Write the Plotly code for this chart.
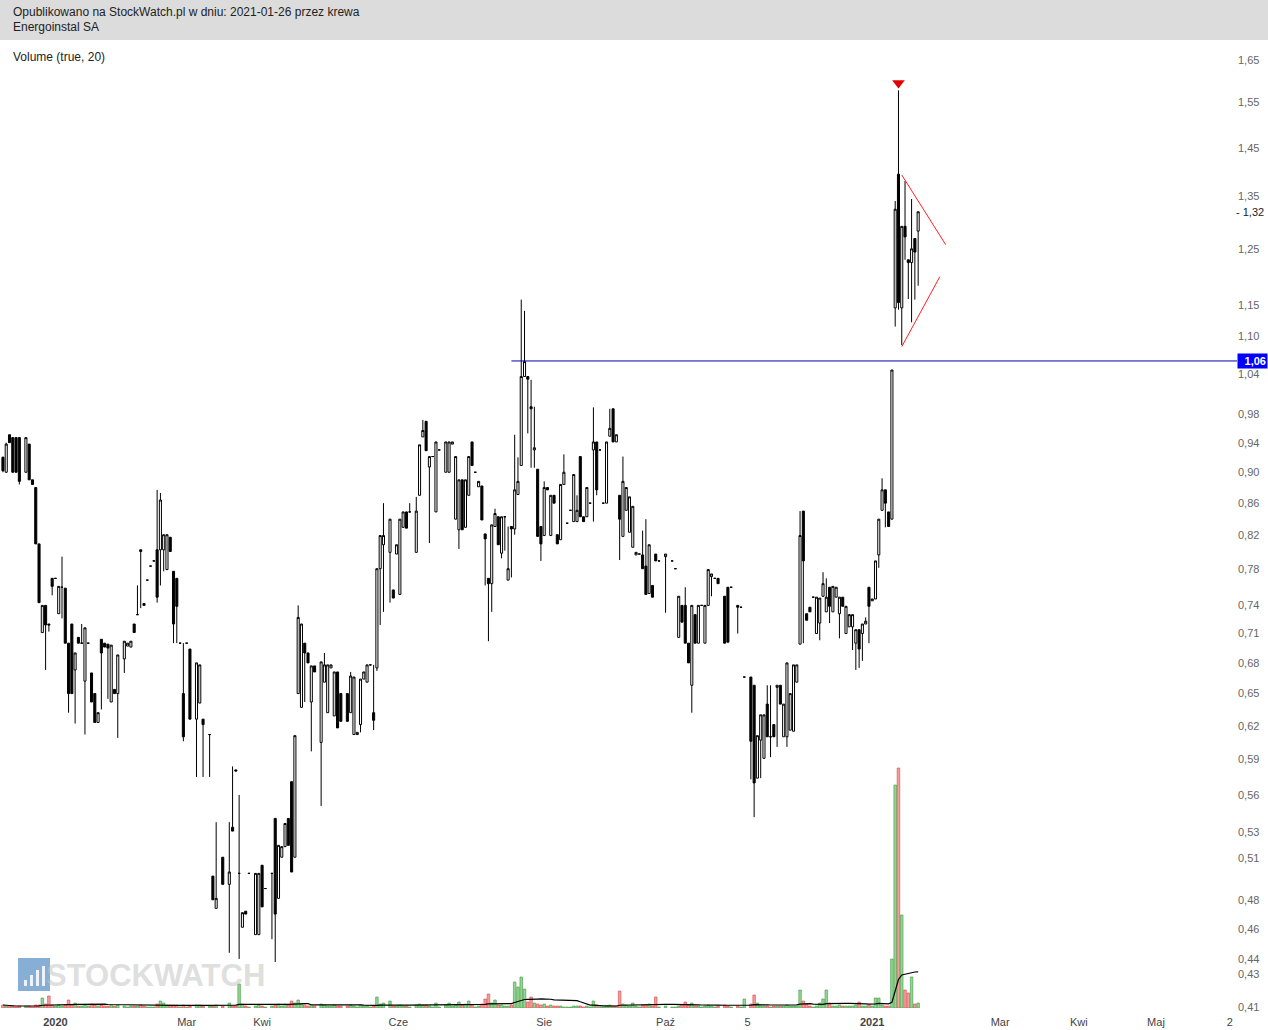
import numpy as np
import pandas as pd
import plotly.graph_objects as go

# ---------------- data ----------------
open_ = [0.920,0.900,0.951,0.947,0.947,0.947,0.900,0.938,0.890,0.880,
         0.810,0.711,0.740,0.720,0.770,0.770,0.731,0.760,0.759,0.700,
         0.720,0.673,0.706,0.700,0.662,0.700,0.670,0.650,0.623,0.704,
         0.700,0.699,0.642,0.654,0.650,0.684,0.697,0.696,0.720,0.730,
         0.803,0.742,0.768,0.784,0.790,0.803,0.803,0.803,0.780,0.818,
         0.778,0.770,0.700,0.650,0.700,0.694,0.626,0.641,0.626,0.612,
         0.497,0.474,0.511,0.491,0.534,0.581,0.499,0.461,0.472,0.499,
         0.456,0.456,0.505,0.488,0.499,0.541,0.481,0.511,0.519,0.541,
         0.571,0.511,0.650,0.637,0.700,0.690,0.642,0.677,0.605,0.661,
         0.632,0.675,0.629,0.671,0.650,0.650,0.632,0.612,0.612,0.621,
         0.664,0.661,0.678,0.632,0.675,0.781,0.809,0.800,0.757,0.798,
         0.752,0.830,0.849,0.849,0.800,0.870,0.948,0.970,0.907,0.921,
         0.849,0.930,0.900,0.900,0.938,0.840,0.827,0.890,0.830,0.870,
         0.941,0.900,0.881,0.882,0.822,0.770,0.764,0.831,0.843,0.799,
         0.843,0.768,0.831,0.828,0.871,0.909,1.036,1.036,0.991,0.930,
         0.904,0.831,0.820,0.880,0.820,0.870,0.821,0.815,0.884,0.835,
         0.851,0.837,0.837,0.921,0.843,0.843,0.860,0.930,0.941,0.930,
         0.860,0.860,0.949,0.988,0.941,0.870,0.819,0.851,0.824,0.806,
         0.797,0.798,0.797,0.784,0.753,0.762,0.798,0.790,0.795,0.790,
         0.781,0.706,0.740,0.740,0.700,0.658,0.730,0.700,0.740,0.700,
         0.740,0.772,0.770,0.770,0.750,0.760,0.760,0.740,0.738,0.666,
         0.666,0.658,0.574,0.607,0.591,0.640,0.610,0.621,0.656,0.658,
         0.610,0.610,0.616,0.615,0.661,0.699,0.850,0.731,0.738,0.749,
         0.710,0.721,0.750,0.733,0.760,0.733,0.749,0.731,0.749,0.710,
         0.717,0.717,0.700,0.714,0.710,0.720,0.760,0.745,0.747,0.797,
         0.851,0.877,0.849,0.840,1.146,1.395,1.146,1.292,1.230,1.225,
         1.269,1.283]

high = [0.921,0.940,0.951,0.947,0.947,0.947,0.947,0.938,0.890,0.880,
        0.810,0.740,0.740,0.720,0.770,0.770,0.761,0.795,0.759,0.700,
        0.720,0.690,0.706,0.720,0.716,0.700,0.670,0.650,0.632,0.704,
        0.700,0.699,0.698,0.654,0.688,0.702,0.700,0.702,0.720,0.762,
        0.803,0.742,0.768,0.784,0.790,0.877,0.873,0.821,0.821,0.818,
        0.778,0.770,0.700,0.700,0.700,0.694,0.680,0.678,0.626,0.612,
        0.497,0.538,0.511,0.538,0.584,0.581,0.560,0.471,0.472,0.499,
        0.499,0.499,0.505,0.488,0.499,0.541,0.520,0.519,0.537,0.541,
        0.571,0.611,0.740,0.720,0.700,0.690,0.677,0.677,0.681,0.690,
        0.678,0.678,0.671,0.671,0.650,0.650,0.671,0.666,0.614,0.664,
        0.671,0.678,0.678,0.678,0.781,0.820,0.860,0.840,0.757,0.809,
        0.840,0.849,0.849,0.860,0.868,0.937,0.972,0.970,0.921,0.921,
        0.941,0.930,0.941,0.941,0.941,0.921,0.890,0.890,0.890,0.921,
        0.941,0.900,0.888,0.882,0.822,0.770,0.833,0.853,0.843,0.843,
        0.843,0.831,0.831,0.951,0.920,1.160,1.141,1.036,1.031,0.991,
        0.904,0.831,0.888,0.880,0.870,0.870,0.821,0.884,0.924,0.835,
        0.851,0.897,0.870,0.921,0.843,0.880,0.860,0.990,0.941,0.930,
        0.860,0.941,0.988,0.988,0.951,0.870,0.921,0.880,0.868,0.856,
        0.800,0.798,0.826,0.840,0.809,0.762,0.798,0.790,0.798,0.790,
        0.781,0.750,0.740,0.760,0.700,0.740,0.730,0.740,0.740,0.740,
        0.780,0.775,0.770,0.770,0.750,0.760,0.760,0.740,0.738,0.666,
        0.666,0.658,0.611,0.630,0.630,0.658,0.658,0.621,0.658,0.658,
        0.640,0.680,0.650,0.678,0.678,0.850,0.850,0.731,0.738,0.749,
        0.749,0.748,0.777,0.770,0.760,0.761,0.760,0.749,0.749,0.739,
        0.730,0.730,0.714,0.714,0.720,0.727,0.760,0.747,0.790,0.840,
        0.892,0.877,0.849,1.046,1.341,1.578,1.292,1.381,1.230,1.345,
        1.269,1.320]

low = [0.900,0.900,0.940,0.900,0.900,0.884,0.900,0.890,0.884,0.810,
       0.743,0.711,0.673,0.712,0.751,0.770,0.731,0.726,0.700,0.632,
       0.650,0.622,0.700,0.700,0.612,0.700,0.642,0.623,0.623,0.635,
       0.696,0.645,0.642,0.650,0.609,0.670,0.697,0.696,0.711,0.730,
       0.737,0.740,0.768,0.784,0.790,0.743,0.762,0.778,0.780,0.801,
       0.700,0.700,0.700,0.606,0.700,0.626,0.575,0.641,0.575,0.575,
       0.480,0.474,0.491,0.444,0.531,0.580,0.440,0.461,0.470,0.499,
       0.456,0.456,0.475,0.488,0.453,0.438,0.481,0.511,0.519,0.520,
       0.500,0.511,0.650,0.637,0.642,0.680,0.597,0.671,0.551,0.661,
       0.632,0.675,0.629,0.618,0.624,0.624,0.632,0.612,0.612,0.614,
       0.664,0.661,0.678,0.616,0.672,0.719,0.733,0.743,0.748,0.798,
       0.752,0.830,0.829,0.849,0.800,0.870,0.948,0.929,0.811,0.921,
       0.849,0.930,0.900,0.900,0.938,0.840,0.804,0.827,0.830,0.870,
       0.909,0.900,0.881,0.839,0.762,0.702,0.733,0.831,0.809,0.793,
       0.802,0.768,0.771,0.821,0.871,0.909,1.036,0.953,0.906,0.906,
       0.819,0.790,0.820,0.877,0.820,0.860,0.810,0.815,0.884,0.835,
       0.851,0.837,0.837,0.843,0.837,0.843,0.860,0.837,0.870,0.930,
       0.860,0.860,0.949,0.941,0.941,0.791,0.819,0.851,0.824,0.806,
       0.797,0.798,0.781,0.752,0.753,0.749,0.790,0.790,0.732,0.790,
       0.781,0.706,0.722,0.700,0.680,0.632,0.700,0.700,0.740,0.700,
       0.740,0.750,0.770,0.764,0.700,0.701,0.760,0.710,0.738,0.666,
       0.573,0.542,0.574,0.574,0.591,0.610,0.592,0.610,0.601,0.640,
       0.610,0.601,0.616,0.615,0.661,0.699,0.700,0.724,0.733,0.749,
       0.710,0.703,0.750,0.733,0.721,0.733,0.749,0.705,0.739,0.710,
       0.717,0.693,0.673,0.675,0.682,0.720,0.700,0.745,0.747,0.782,
       0.851,0.830,0.831,0.840,1.115,1.143,1.085,1.230,1.161,1.122,
       1.160,1.184]

close = [0.902,0.938,0.940,0.900,0.900,0.888,0.947,0.890,0.884,0.810,
         0.743,0.740,0.719,0.719,0.761,0.770,0.761,0.760,0.700,0.650,
         0.650,0.690,0.700,0.700,0.716,0.700,0.642,0.623,0.632,0.690,
         0.696,0.695,0.698,0.650,0.688,0.702,0.700,0.702,0.711,0.730,
         0.801,0.740,0.768,0.784,0.790,0.749,0.864,0.821,0.821,0.801,
         0.720,0.739,0.700,0.610,0.700,0.626,0.680,0.678,0.621,0.612,
         0.480,0.481,0.491,0.500,0.531,0.580,0.499,0.471,0.470,0.499,
         0.499,0.499,0.475,0.488,0.499,0.470,0.520,0.519,0.537,0.520,
         0.500,0.611,0.727,0.720,0.690,0.680,0.677,0.671,0.681,0.678,
         0.678,0.678,0.671,0.618,0.624,0.624,0.667,0.666,0.614,0.664,
         0.671,0.678,0.678,0.625,0.781,0.820,0.820,0.840,0.748,0.809,
         0.840,0.849,0.829,0.849,0.850,0.937,0.957,0.929,0.921,0.921,
         0.941,0.930,0.941,0.941,0.941,0.921,0.890,0.827,0.890,0.921,
         0.909,0.900,0.888,0.839,0.816,0.764,0.833,0.847,0.809,0.843,
         0.843,0.781,0.828,0.877,0.888,1.036,1.059,1.032,0.988,0.933,
         0.819,0.810,0.880,0.877,0.870,0.860,0.810,0.884,0.900,0.835,
         0.851,0.897,0.851,0.843,0.837,0.880,0.860,0.941,0.877,0.930,
         0.860,0.941,0.960,0.941,0.951,0.840,0.888,0.880,0.868,0.856,
         0.800,0.798,0.781,0.752,0.809,0.749,0.790,0.790,0.798,0.790,
         0.781,0.750,0.722,0.700,0.680,0.740,0.700,0.740,0.740,0.740,
         0.780,0.775,0.770,0.764,0.700,0.701,0.760,0.738,0.738,0.666,
         0.606,0.570,0.611,0.630,0.630,0.610,0.610,0.610,0.658,0.640,
         0.640,0.680,0.650,0.678,0.678,0.820,0.790,0.724,0.733,0.749,
         0.749,0.748,0.764,0.749,0.739,0.761,0.760,0.749,0.739,0.739,
         0.730,0.730,0.714,0.694,0.720,0.723,0.739,0.747,0.790,0.840,
         0.877,0.860,0.831,1.046,1.325,1.155,1.292,1.272,1.225,1.250,
         1.244,1.320]

volume = [3,2,2,2,1,2,2,2,1,3,
          3,10,4,12,3,2,3,2,3,8,
          3,5,2,2,3,2,4,3,2,3,
          2,2,3,2,3,2,1,2,2,2,
          3,2,1,1,1,4,7,5,3,3,
          3,3,1,3,1,2,3,3,2,2,
          2,3,2,5,2,2,24,4,2,1,
          2,3,2,1,2,3,4,2,4,3,
          7,5,8,4,3,2,3,2,4,3,
          2,2,3,2,2,2,3,2,1,3,
          2,2,1,2,11,4,5,7,2,2,
          3,2,2,1,3,4,3,3,2,1,
          5,1,3,5,2,3,6,3,4,7,
          3,1,2,4,9,14,5,8,3,3,
          2,2,3,26,21,31,19,6,11,5,
          4,3,4,2,3,2,2,2,1,1,
          1,2,2,2,1,2,1,7,3,1,
          1,2,3,2,2,17,4,3,2,5,
          2,1,3,3,4,2,11,1,2,1,
          1,2,3,6,3,5,2,2,1,2,
          3,2,1,2,3,2,1,2,1,9,
          4,13,5,2,2,2,1,2,2,2,
          2,3,2,2,2,18,7,4,2,1,
          2,5,9,18,5,2,2,3,2,2,
          2,2,3,6,2,2,3,2,10,10,
          3,2,2,49,223,240,93,18,15,31,
          4,5]

# trading sessions with no candle drawn (gaps in the series)
skipped_before = [6, 35, 56, 59, 62, 63, 70, 74, 88, 95, 107, 114, 122, 188, 189, 204, 207, 210]

tick_sessions = [16, 56, 79, 120.5, 165, 202, 227, 265, 304, 328, 351.5, 374]
tick_labels = ["<b>2020</b>", "Mar", "Kwi", "Cze", "Sie", "Paź", "5", "<b>2021</b>", "Mar", "Kwi", "Maj", "2"]

price_ticks = [1.65, 1.55, 1.45, 1.35, 1.25, 1.15, 1.10, 1.04, 0.98, 0.94, 0.90, 0.86,
               0.82, 0.78, 0.74, 0.71, 0.68, 0.65, 0.62, 0.59, 0.56, 0.53, 0.51, 0.48,
               0.46, 0.44, 0.43, 0.41]
price_tick_text = [f"{v:.2f}".replace(".", ",") for v in price_ticks]

resistance_level = 1.06
resistance_start = 155
last_price = 1.32
pennant_upper_x = [274, 287.4]
pennant_upper_y = [1.3935, 1.2576]
pennant_lower_x = [274, 285.6]
pennant_lower_y = [1.0825, 1.1997]
peak_marker_x = [273]
peak_marker_y = [1.595]

# ---------------- derived ----------------
N = len(close)
idx = np.arange(N)
session = idx + np.searchsorted(np.array(sorted(skipped_before)), idx, side="right")
vol_ma = pd.Series(volume, dtype=float).rolling(20, min_periods=1).mean()
up = [c >= o for o, c in zip(open_, close)]
vol_fill = ["rgba(130,205,130,0.85)" if u else "rgba(245,140,140,0.85)" for u in up]
vol_line = ["#3f9a3f" if u else "#d64545" for u in up]

W, H = 1268, 1030
PL, PR, PT, PB = 0, 31, 40, 22
plot_w = W - PL - PR
plot_h = H - PT - PB
def px_x(x):
    return (x - PL) / plot_w
def px_y(y):
    return (H - PB - y) / plot_h

x_range = [-0.9, 376.2]
y_range_log = [-0.38786, 0.23025]

fig = go.Figure()

fig.add_trace(go.Candlestick(
    x=session, open=open_, high=high, low=low, close=close,
    increasing=dict(line=dict(color="black", width=1), fillcolor="white"),
    decreasing=dict(line=dict(color="black", width=1), fillcolor="black"),
    whiskerwidth=0, hoverinfo="skip", name="Energoinstal SA",
))

# resistance line
fig.add_trace(go.Scatter(
    x=[resistance_start, x_range[1]], y=[resistance_level, resistance_level],
    mode="lines", line=dict(color="#0000a0", width=1), hoverinfo="skip"))

# pennant lines
fig.add_trace(go.Scatter(x=pennant_upper_x, y=pennant_upper_y, mode="lines",
                         line=dict(color="#ff2020", width=1), hoverinfo="skip"))
fig.add_trace(go.Scatter(x=pennant_lower_x, y=pennant_lower_y, mode="lines",
                         line=dict(color="#ff2020", width=1), hoverinfo="skip"))
fig.add_trace(go.Scatter(x=peak_marker_x, y=peak_marker_y, mode="markers",
                         marker=dict(symbol="triangle-down", size=11, color="#e00000"),
                         hoverinfo="skip"))

# volume
fig.add_trace(go.Bar(
    x=session, y=volume, yaxis="y2", width=0.78,
    marker=dict(color=vol_fill, line=dict(color=vol_line, width=0.6)),
    hoverinfo="skip"))
fig.add_trace(go.Scatter(
    x=session, y=vol_ma, yaxis="y2", mode="lines",
    line=dict(color="black", width=1.2), hoverinfo="skip"))

shapes = [
    dict(type="rect", xref="paper", yref="paper", x0=px_x(0), x1=px_x(W), y0=px_y(40), y1=px_y(0),
         fillcolor="#dcdcdc", line=dict(width=0), layer="below"),
    # watermark icon
    dict(type="rect", xref="paper", yref="paper", x0=px_x(18), x1=px_x(50), y0=px_y(991), y1=px_y(958),
         fillcolor="rgba(70,130,190,0.65)", line=dict(width=0), layer="below"),
]
for bx, top in [(24, 980), (30, 975), (36, 970), (42, 966)]:
    shapes.append(dict(type="rect", xref="paper", yref="paper", x0=px_x(bx), x1=px_x(bx + 3),
                       y0=px_y(986), y1=px_y(top), fillcolor="rgba(255,255,255,0.85)",
                       line=dict(width=0), layer="below"))

font_fam = "Liberation Sans, Arial, sans-serif"
annotations = [
    dict(xref="paper", yref="paper", x=px_x(11), y=px_y(12), xanchor="left", yanchor="middle",
         text="Opublikowano na StockWatch.pl w dniu: 2021-01-26 przez krewa", showarrow=False,
         font=dict(family=font_fam, size=12, color="#222")),
    dict(xref="paper", yref="paper", x=px_x(11), y=px_y(27), xanchor="left", yanchor="middle",
         text="Energoinstal SA", showarrow=False, font=dict(family=font_fam, size=12, color="#222")),
    dict(xref="paper", yref="paper", x=px_x(11), y=px_y(57), xanchor="left", yanchor="middle",
         text="Volume (true, 20)", showarrow=False, font=dict(family=font_fam, size=12, color="#222")),
    dict(xref="paper", yref="y", x=px_x(1237), y=np.log10(resistance_level), xanchor="left",
         yanchor="middle", text="<b>1,06</b>", showarrow=False, bgcolor="#0000ff", width=27,
         align="right", borderpad=1, font=dict(family=font_fam, size=11, color="white")),
    dict(xref="paper", yref="y", x=px_x(1234), y=np.log10(last_price), xanchor="left",
         yanchor="middle", text="- 1,32", showarrow=False,
         font=dict(family=font_fam, size=11, color="#222")),
    dict(xref="paper", yref="paper", x=px_x(155), y=px_y(975), xanchor="center", yanchor="middle",
         text="<b>STOCKWATCH</b>", showarrow=False,
         font=dict(family=font_fam, size=31, color="rgba(195,195,195,0.55)")),
]

fig.update_layout(
    width=W, height=H,
    margin=dict(l=PL, r=PR, t=PT, b=PB),
    paper_bgcolor="white", plot_bgcolor="white",
    showlegend=False, boxgap=0.1,
    font=dict(family=font_fam, size=11, color="#555"),
    xaxis=dict(range=x_range, rangeslider=dict(visible=False), showgrid=False, zeroline=False,
               showline=False, tickmode="array", tickvals=tick_sessions, ticktext=tick_labels,
               ticks="", ticklabelstandoff=6, tickfont=dict(size=11, color="#444")),
    yaxis=dict(type="log", range=y_range_log, side="right", showgrid=False, zeroline=False,
               showline=False, tickmode="array", tickvals=price_ticks, ticktext=price_tick_text,
               ticks="", tickfont=dict(size=11, color="#666")),
    yaxis2=dict(overlaying="y", range=[0, plot_h], visible=False, showgrid=False),
    shapes=shapes, annotations=annotations,
)

fig.write_html("out.html", config={"displayModeBar": False},
               post_script="document.body.style.margin='0';document.body.style.overflow='hidden';")
